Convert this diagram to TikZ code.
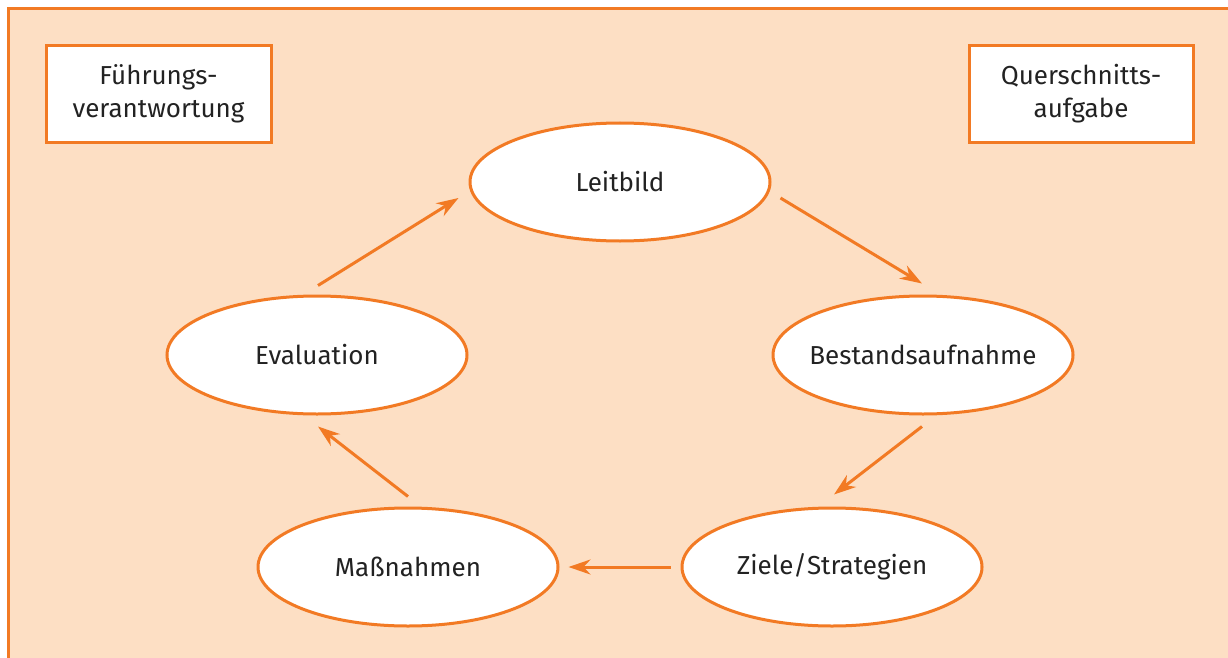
\documentclass[tikz,border=0pt]{standalone}
\usepackage{fontspec}
\setmainfont{Fira Sans}
\usetikzlibrary{shapes.geometric,arrows.meta,calc}
\definecolor{panel}{HTML}{FDDFC4}
\definecolor{org}{HTML}{F27A24}
\definecolor{txt}{HTML}{222222}
\tikzset{
  cyc/.style={ellipse,draw=org,fill=white,line width=3pt,minimum width=300pt,minimum height=118pt,inner sep=0pt,text=txt,font=\fontsize{26}{32}\selectfont},
  tbox/.style={rectangle,draw=org,fill=white,line width=3pt,inner sep=0pt,text=txt,align=center,font=\fontsize{26}{33}\selectfont},
  arr/.style={draw=org,line width=3pt,-{Stealth[length=22pt,width=15pt,inset=7pt]}}
}
\begin{document}
\begin{tikzpicture}[x=1pt,y=-1pt]
\useasboundingbox (0,0) rectangle (1228,658);
\fill[panel] (8,9) rectangle (1228,658);
\draw[org,line width=3pt] (8,660) -- (8,9) -- (1230,9);
\node[tbox,minimum width=225pt,minimum height=96pt] (fv) at (158.5,94) {Führungs-\\verantwortung};
\node[tbox,minimum width=224pt,minimum height=96pt] (qa) at (1081,94) {Querschnitts-\\aufgabe};
\node[cyc] (lb) at (620,182) {Leitbild};
\node[cyc] (ev) at (317,355) {Evaluation};
\node[cyc] (ba) at (923,355) {\makebox[0pt]{Bestandsaufnahme}};
\node[cyc] (mn) at (408,567) {Maßnahmen};
\node[cyc] (zs) at (832,567) {\makebox[0pt]{Ziele/Strategien}};
\draw[arr] ($(ev.north)+(1,-9)$) -- ($(lb.west)+(-10,16)$);
\draw[arr] ($(lb.east)+(9,16)$) -- ($(ba.north)+(-1,-11)$);
\draw[arr] ($(ba.south)+(-1,11)$) -- ($(zs.north)+(2,-12)$);
\draw[arr] ($(zs.west)+(-10,0)$) -- ($(mn.east)+(9,0)$);
\draw[arr] ($(mn.north)+(0,-10)$) -- ($(ev.south)+(1,11)$);
\end{tikzpicture}
\end{document}
